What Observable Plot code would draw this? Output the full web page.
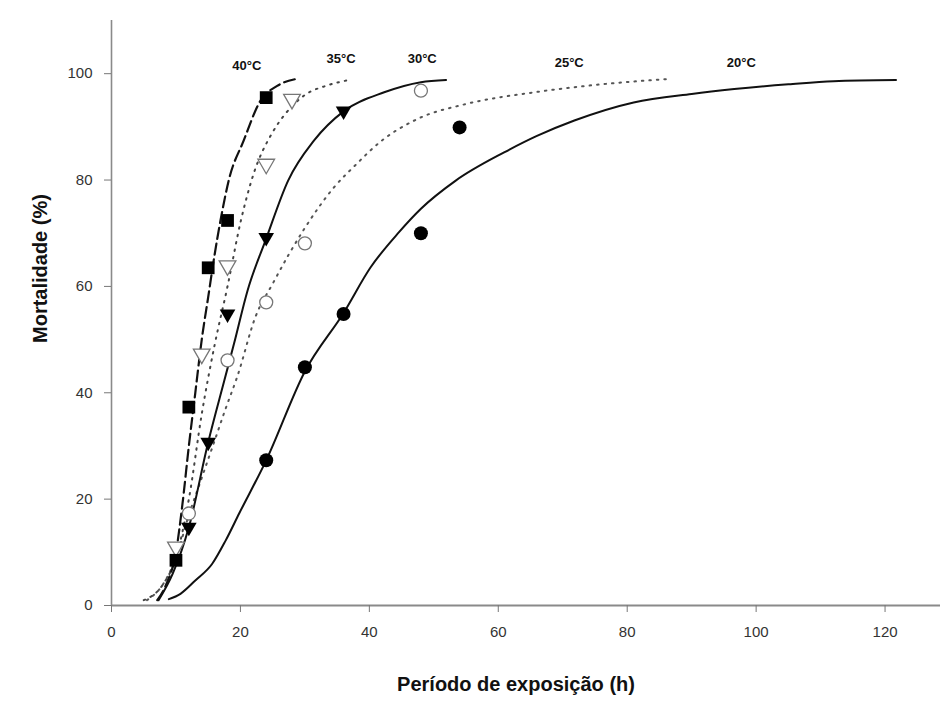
<!DOCTYPE html>
<html>
<head>
<meta charset="utf-8">
<script src="https://cdn.jsdelivr.net/npm/d3@7"></script>
<script src="https://cdn.jsdelivr.net/npm/@observablehq/plot@0.6"></script>
<style>
  html, body { margin: 0; padding: 0; background: #fff; }
  #chart { width: 941px; height: 706px; }
</style>
</head>
<body>
<div id="chart"></div>
<script>
// ---- observed points ----
const hours40 = [10, 12, 15, 18, 24];
const mort40  = [8.5, 37.3, 63.5, 72.4, 95.5];
const hours35 = [10, 14, 18, 24, 28];
const mort35  = [11, 47.3, 63.9, 83, 95.2];
const hours30 = [12, 15, 18, 24, 36];
const mort30  = [14.7, 30.7, 54.8, 69.2, 93];
const hours25 = [12, 18, 24, 30, 48];
const mort25  = [17.3, 46.1, 57, 68.1, 96.8];
const hours20 = [24, 30, 36, 48, 54];
const mort20  = [27.3, 44.8, 54.8, 70, 89.9];

// ---- fitted curves ----
const curve40X = [7.1, 8.5, 10, 11, 12, 13, 14, 15, 16, 17, 18.2, 20.5, 23.1, 25.7, 28.6];
const curve40Y = [1, 4, 10, 19, 30, 40, 50, 58, 66, 73, 80, 87.4, 94.9, 97.7, 99];
const curve35X = [5, 8, 10, 12, 14, 16, 18, 20, 22, 25, 27, 30, 33.5, 36.8];
const curve35Y = [1, 4, 9, 20, 36, 49, 60, 72, 81, 89, 92.5, 96, 97.8, 98.8];
const curve30X = [7.3, 9.5, 12, 15, 17.5, 19, 21.1, 24, 27.4, 31.4, 36.1, 42.3, 48, 51.9];
const curve30Y = [1, 6, 14.7, 30.7, 42.3, 49.2, 59.2, 69, 79.9, 87.4, 93, 96.5, 98.4, 98.8];
const curve25X = [5.5, 8, 10, 12, 14, 16, 17.7, 19.5, 22.4, 25, 27.5, 30, 34.5, 38, 41.5, 47.5, 55, 65.6, 76, 86.3];
const curve25Y = [1, 4, 9, 17, 24, 31, 37, 43, 54.5, 60.5, 66, 71, 78.6, 83, 87, 91.5, 94.3, 96.5, 98, 99];
const curve20X = [8.9, 10.7, 13, 15.6, 17.7, 19.8, 24, 30, 36, 40.2, 44.6, 48, 53.4, 60.9, 66, 71.8, 81, 90, 96.6, 105, 112, 121.7];
const curve20Y = [1.2, 2.2, 4.7, 7.8, 12.2, 17.3, 27.3, 44, 55, 63.6, 70.2, 74.6, 79.9, 85.2, 88.3, 91.2, 94.6, 96.2, 97.1, 98, 98.6, 98.8];

// ---- labels ----
const seriesLabels = ["40°C", "35°C", "30°C", "25°C", "20°C"];
const labelX = [21, 35.6, 48.2, 71, 97.7];
const labelY = [101.5, 102.8, 102.8, 102.1, 102.1];
const xTicks = [0, 20, 40, 60, 80, 100, 120];
const yTicks = [0, 20, 40, 60, 80, 100];
const xTitle = "Período de exposição (h)";
const yTitle = "Mortalidade (%)";

const pts = (xs, ys) => xs.map((x, i) => ({x, y: ys[i]}));

// downward-pointing triangle symbol
const triangleDown = {
  draw(context, size) {
    const a = Math.sqrt(4 * size / Math.sqrt(3));
    const h = a * Math.sqrt(3) / 2;
    context.moveTo(0, 2 * h / 3);
    context.lineTo(-a / 2, -h / 3);
    context.lineTo(a / 2, -h / 3);
    context.closePath();
  }
};

const chart = Plot.plot({
  width: 941,
  height: 706,
  marginLeft: 111,
  marginRight: 1,
  marginTop: 20,
  marginBottom: 101,
  style: {fontFamily: "Arial, 'Liberation Sans', sans-serif", background: "#fff", color: "#000"},
  x: {domain: [0, 128.6]},
  y: {domain: [0, 110]},
  marks: [
    Plot.ruleX([0], {stroke: "#8a8a8a", strokeWidth: 1.6}),
    Plot.ruleY([0], {stroke: "#8a8a8a", strokeWidth: 2}),
    Plot.axisX({ticks: xTicks, tickSize: 7, tickPadding: 14, fontSize: 15, stroke: "#777", fill: "#333", label: null, tickFormat: d => String(d)}),
    Plot.axisY({ticks: yTicks, tickSize: 7, tickPadding: 12, fontSize: 15, stroke: "#777", fill: "#333", label: null, tickFormat: d => String(d)}),

    // curves
    Plot.line(pts(curve20X, curve20Y), {x: "x", y: "y", curve: "monotone-x", stroke: "#111", strokeWidth: 2}),
    Plot.line(pts(curve25X, curve25Y), {x: "x", y: "y", curve: "monotone-x", stroke: "#555", strokeWidth: 2, strokeDasharray: "1.5,6"}),
    Plot.line(pts(curve30X, curve30Y), {x: "x", y: "y", curve: "monotone-x", stroke: "#111", strokeWidth: 2}),
    Plot.line(pts(curve35X, curve35Y), {x: "x", y: "y", curve: "monotone-x", stroke: "#444", strokeWidth: 2, strokeDasharray: "1.5,6"}),
    Plot.line(pts(curve40X, curve40Y), {x: "x", y: "y", curve: "monotone-x", stroke: "#111", strokeWidth: 2.2, strokeDasharray: "11,5"}),

    // observed points
    Plot.dot(pts(hours20, mort20), {x: "x", y: "y", symbol: "circle", r: 7, fill: "#000", stroke: "none"}),
    Plot.dot(pts(hours25, mort25), {x: "x", y: "y", symbol: "circle", r: 6.5, fill: "white", stroke: "#777", strokeWidth: 1.3}),
    Plot.dot(pts(hours30, mort30), {x: "x", y: "y", symbol: triangleDown, r: 5.8, fill: "#000", stroke: "none"}),
    Plot.dot(pts(hours35, mort35), {x: "x", y: "y", symbol: triangleDown, r: 6.2, fill: "white", stroke: "#777", strokeWidth: 1.3}),
    Plot.dot(pts(hours40, mort40), {x: "x", y: "y", symbol: "square", r: 7.2, fill: "#000", stroke: "none"}),

    // series labels
    Plot.text(seriesLabels, {x: (d, i) => labelX[i], y: (d, i) => labelY[i], text: d => d, fontSize: 13, fontWeight: "bold", fill: "#111"}),

    // axis titles
    Plot.text([xTitle], {frameAnchor: "bottom", dx: -10, dy: 85, fontSize: 20, fontWeight: "bold", fill: "#111"}),
    Plot.text([yTitle], {frameAnchor: "left", dx: -71, dy: 30, rotate: -90, fontSize: 20, fontWeight: "bold", fill: "#111"})
  ]
});
document.getElementById("chart").appendChild(chart);
</script>
</body>
</html>
